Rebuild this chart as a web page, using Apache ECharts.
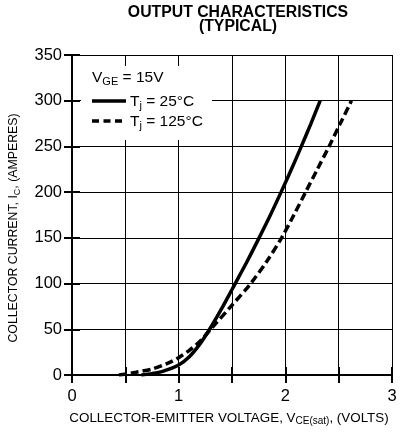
<!DOCTYPE html>
<html>
<head>
<meta charset="utf-8">
<script src="https://cdn.jsdelivr.net/npm/echarts@6/dist/echarts.min.js"></script>
<style>html,body{margin:0;padding:0;background:#fff}#c{width:400px;height:432px}</style>
</head>
<body>
<div id="c"></div>
<script>
// Data
const xTicks = [0, 1, 2, 3];
const yTicks = [0, 50, 100, 150, 200, 250, 300, 350];
const v25  = [0.65, 0.75, 0.85, 1.0, 1.1, 1.2, 1.29, 1.4, 1.5, 1.53, 1.645, 1.754, 1.86, 1.96, 2.057, 2.15, 2.24, 2.327];
const i25  = [0,    1.5,  4,    11,  20,  34,  50,   72,  93.5, 100, 125,   150,   175,  200,  225,   250,  275,  300];
const v125 = [0.44, 0.5, 0.6, 0.75, 0.9, 1.0, 1.1, 1.2, 1.3, 1.49, 1.675, 1.83, 1.965, 2.08, 2.19, 2.30, 2.41, 2.515, 2.62];
const i125 = [0,    1,   3,   6.5,  13,  19,  27,  37,  50,  75,   100,   125,  150,   175,  200,  225,  250,  275,   300];
const seriesNames = ['Tj = 25°C', 'Tj = 125°C'];

const zip = (a, b) => a.map((v, k) => [v, b[k]]);
const FONT = '"Liberation Sans", Arial, Helvetica, sans-serif';

const chart = echarts.init(document.getElementById('c'), null, {renderer: 'canvas'});
const tickStyle = {show: true, inside: true, length: 8, lineStyle: {color: '#000', width: 2}};
const lineStyleAxis = {show: true, lineStyle: {color: '#000', width: 2}};
const legRich = {
  a: {fontFamily: FONT, fontSize: 15.5, fill: '#000'},
  s: {fontFamily: FONT, fontSize: 11, fill: '#000', padding: [7, 0, 0, 0]}
};

chart.setOption({
  animation: false,
  backgroundColor: '#fff',
  title: {
    text: 'OUTPUT CHARACTERISTICS\n(TYPICAL)',
    left: 233, top: 0, textAlign: 'center',
    textStyle: {fontFamily: FONT, fontWeight: 'bold', fontSize: 15.8, lineHeight: 14.5, color: '#000'}
  },
  grid: {left: 72, right: 8, top: 55, bottom: 57, outerBoundsMode: 'none', containLabel: false},
  xAxis: [{
    type: 'value', min: 0, max: 3, interval: 0.5,
    axisLine: lineStyleAxis, axisTick: tickStyle,
    splitLine: {show: true, lineStyle: {color: '#000', width: 1}},
    axisLabel: {
      fontFamily: FONT, fontSize: 16.5, color: '#000', margin: 13,
      formatter: v => xTicks.indexOf(v) >= 0 ? String(v) : ''
    }
  }, {
    type: 'value', min: 0, max: 3, interval: 0.5, position: 'top',
    axisLine: lineStyleAxis, axisTick: tickStyle, axisLabel: {show: false}, splitLine: {show: false}
  }],
  yAxis: [{
    type: 'value', min: 0, max: 350, interval: 50,
    axisLine: lineStyleAxis, axisTick: tickStyle,
    splitLine: {show: true, lineStyle: {color: '#000', width: 1}},
    axisLabel: {fontFamily: FONT, fontSize: 16.5, color: '#000', margin: 10,
      formatter: v => yTicks.indexOf(v) >= 0 ? String(v) : ''}
  }, {
    type: 'value', min: 0, max: 350, interval: 50, position: 'right',
    axisLine: lineStyleAxis, axisTick: tickStyle, axisLabel: {show: false}, splitLine: {show: false}
  }],
  series: [{
    name: seriesNames[0], type: 'line', data: zip(v25, i25), smooth: 0.3,
    showSymbol: false, lineStyle: {color: '#000', width: 3.5, type: 'solid'}, z: 5
  }, {
    name: seriesNames[1], type: 'line', data: zip(v125, i125), smooth: 0.3,
    showSymbol: false, lineStyle: {color: '#000', width: 3.5, type: [8, 4]}, z: 5
  }],
  graphic: [
    {type: 'text', x: 229, y: 418, z: 4, style: {
      text: '{a|COLLECTOR-EMITTER VOLTAGE, V}{s|CE(sat)}{a|, (VOLTS)}',
      align: 'center', verticalAlign: 'middle',
      rich: {
        a: {fontFamily: FONT, fontSize: 13.4, fill: '#000'},
        s: {fontFamily: FONT, fontSize: 10, fill: '#000', padding: [7, 0, 0, 0]}
      }
    }},
    {type: 'text', x: 14, y: 228, rotation: Math.PI / 2, z: 4, style: {
      text: '{a|COLLECTOR CURRENT, I}{s|C}{a|, (AMPERES)}',
      align: 'center', verticalAlign: 'middle',
      rich: {
        a: {fontFamily: FONT, fontSize: 12.3, fill: '#000'},
        s: {fontFamily: FONT, fontSize: 9, fill: '#000', padding: [7, 0, 0, 0]}
      }
    }},
    {type: 'rect', shape: {x: 81, y: 66, width: 131, height: 74}, style: {fill: '#fff'}, z: 3},
    {type: 'text', x: 92, y: 78, z: 4, style: {
      text: '{a|V}{s|GE}{a| = 15V}', verticalAlign: 'middle', rich: legRich
    }},
    {type: 'line', shape: {x1: 92, y1: 101, x2: 126, y2: 101}, style: {stroke: '#000', lineWidth: 3.5}, z: 4},
    {type: 'text', x: 130, y: 102, z: 4, style: {
      text: '{a|T}{s|j}{a| = 25°C}', verticalAlign: 'middle', rich: legRich
    }},
    {type: 'line', shape: {x1: 92, y1: 121, x2: 126, y2: 121}, style: {stroke: '#000', lineWidth: 3.5, lineDash: [7, 4.5]}, z: 4},
    {type: 'text', x: 130, y: 122, z: 4, style: {
      text: '{a|T}{s|j}{a| = 125°C}', verticalAlign: 'middle', rich: legRich
    }}
  ]
});
</script>
</body>
</html>
